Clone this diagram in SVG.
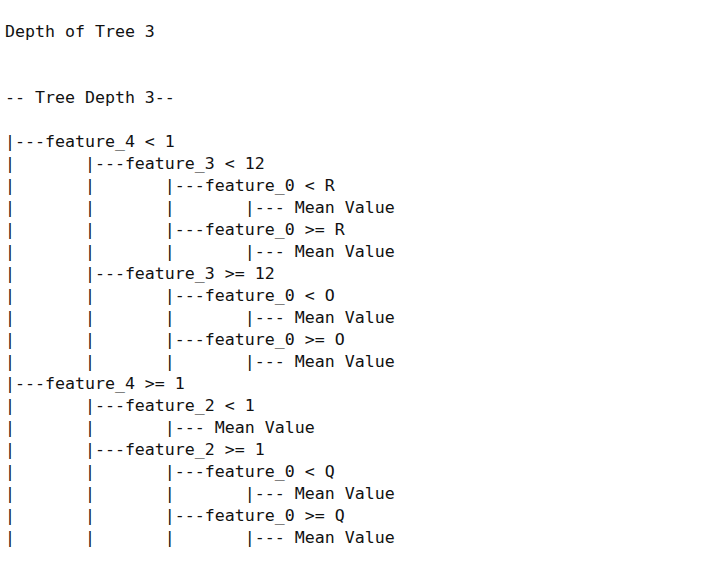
<svg xmlns="http://www.w3.org/2000/svg" width="702" height="570" viewBox="0 0 702 570">
<style>
text{font-family:"DejaVu Sans Mono","Liberation Mono",monospace;font-size:16.6px;fill:#111;white-space:pre}
</style>
<rect width="702" height="570" fill="#fff"/>
<g id="title">
<text x="5" y="37" xml:space="preserve">Depth of Tree 3</text>
<text x="5" y="103" xml:space="preserve">-- Tree Depth 3--</text>
</g>
<g id="tree">
<text x="5" y="147" xml:space="preserve">|---feature_4 &lt; 1</text>
<text x="5" y="169" xml:space="preserve">|       |---feature_3 &lt; 12</text>
<text x="5" y="191" xml:space="preserve">|       |       |---feature_0 &lt; R</text>
<text x="5" y="213" xml:space="preserve">|       |       |       |--- Mean Value</text>
<text x="5" y="235" xml:space="preserve">|       |       |---feature_0 &gt;= R</text>
<text x="5" y="257" xml:space="preserve">|       |       |       |--- Mean Value</text>
<text x="5" y="279" xml:space="preserve">|       |---feature_3 &gt;= 12</text>
<text x="5" y="301" xml:space="preserve">|       |       |---feature_0 &lt; O</text>
<text x="5" y="323" xml:space="preserve">|       |       |       |--- Mean Value</text>
<text x="5" y="345" xml:space="preserve">|       |       |---feature_0 &gt;= O</text>
<text x="5" y="367" xml:space="preserve">|       |       |       |--- Mean Value</text>
<text x="5" y="389" xml:space="preserve">|---feature_4 &gt;= 1</text>
<text x="5" y="411" xml:space="preserve">|       |---feature_2 &lt; 1</text>
<text x="5" y="433" xml:space="preserve">|       |       |--- Mean Value</text>
<text x="5" y="455" xml:space="preserve">|       |---feature_2 &gt;= 1</text>
<text x="5" y="477" xml:space="preserve">|       |       |---feature_0 &lt; Q</text>
<text x="5" y="499" xml:space="preserve">|       |       |       |--- Mean Value</text>
<text x="5" y="521" xml:space="preserve">|       |       |---feature_0 &gt;= Q</text>
<text x="5" y="543" xml:space="preserve">|       |       |       |--- Mean Value</text>
</g>
</svg>
